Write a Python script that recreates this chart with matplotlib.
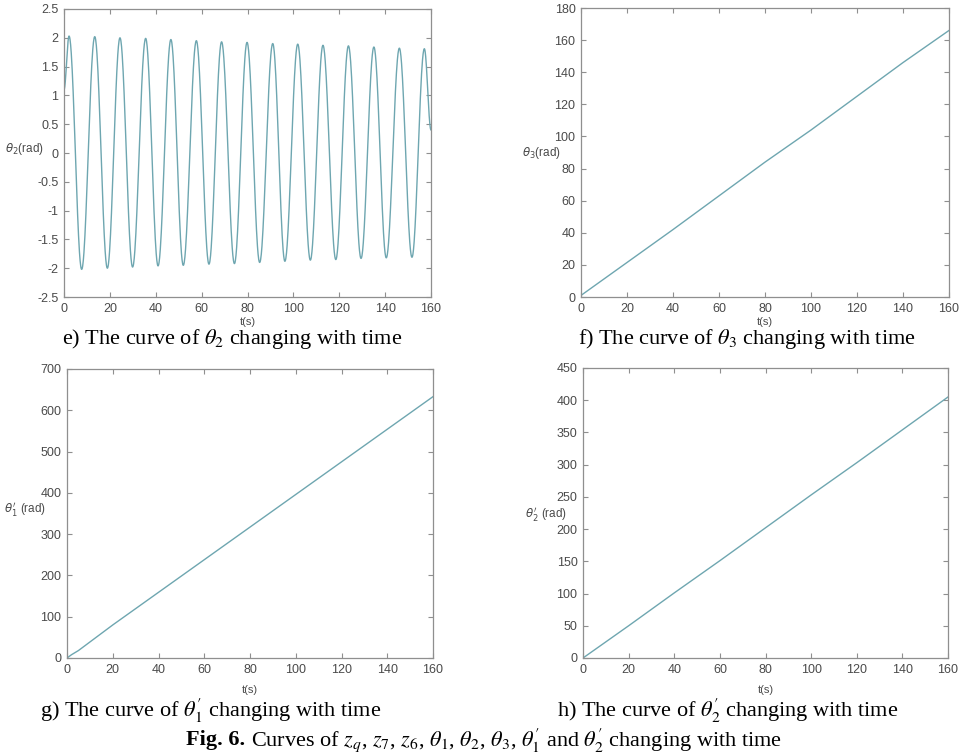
import numpy as np
import matplotlib
matplotlib.use("Agg")
import matplotlib.pyplot as plt

plt.rcParams['font.family'] = ['Liberation Sans', 'DejaVu Sans']

# e) theta2: extrema (t in s, value in rad)
th2_t = [0, 2.2, 7.7, 13.4, 18.9, 24.4, 29.9, 35.6, 41.0, 46.6, 52.0, 57.7, 63.2,
         68.7, 74.3, 79.8, 85.3, 91.0, 96.3, 101.9, 107.4, 112.9, 118.5, 124.0,
         129.5, 135.1, 140.5, 146.2, 151.7, 157.1, 160]
th2_v = [1.1, 2.03, -2.02, 2.02, -2.00, 2.00, -1.98, 1.99, -1.96, 1.97, -1.95, 1.95,
         -1.93, 1.93, -1.92, 1.92, -1.90, 1.90, -1.88, 1.89, -1.86, 1.87, -1.85,
         1.86, -1.83, 1.84, -1.82, 1.82, -1.81, 1.81, 0.4]

# f) theta3
th3_t = [0, 20, 40, 60, 80, 100, 120, 140, 160]
th3_v = [1, 21.5, 42, 63, 84, 104, 125, 146, 166]

# g) theta1'
th1p_t = [0, 2, 5, 20, 40, 60, 80, 100, 120, 140, 160]
th1p_v = [0, 8, 18, 80, 159, 238, 317, 396, 475, 554, 633]

# h) theta2'
th2p_t = [0, 20, 40, 60, 80, 100, 120, 140, 160]
th2p_v = [0, 50, 101, 151, 202, 253, 303, 354, 405]

line_color = '#6ea6b0'
spine_color = '#8f8f8f'
text_color = '#4a4a4a'


def smooth_extrema(ts, vs, n=40):
    # half-cosine between consecutive extrema
    xs, ys = [], []
    for i in range(len(ts) - 1):
        s = np.linspace(0, 1, n, endpoint=False)
        xs.append(ts[i] + (ts[i + 1] - ts[i]) * s)
        ys.append(vs[i] + (vs[i + 1] - vs[i]) * (1 - np.cos(np.pi * s)) / 2)
    xs.append([ts[-1]])
    ys.append([vs[-1]])
    return np.concatenate(xs), np.concatenate(ys)


def style_axes(ax, ylim, yticks, ylabel, ylab_xy, xlab_pad):
    ax.set_xlim(0, 160)
    ax.set_ylim(*ylim)
    ax.set_xticks(range(0, 161, 20))
    ax.set_yticks(yticks)
    ax.tick_params(direction='in', top=True, right=True, length=3.5, width=0.8,
                   colors=spine_color, labelcolor=text_color, labelsize=9, pad=4)
    for sp in ax.spines.values():
        sp.set_color(spine_color)
        sp.set_linewidth(0.9)
    ax.set_xlabel('t(s)', fontsize=8, color=text_color, labelpad=xlab_pad)
    fig.text(ylab_xy[0] / 964, 1 - ylab_xy[1] / 755, ylabel, fontsize=8.5,
             color=text_color, ha='center', va='center',
             math_fontfamily='dejavusans')


fig = plt.figure(figsize=(9.64, 7.55), dpi=100)

ax1 = fig.add_axes([0.0664, 0.6066, 0.3807, 0.3815])
x, y = smooth_extrema(th2_t, th2_v)
ax1.plot(x, y, color=line_color, lw=1.0)
style_axes(ax1, (-2.5, 2.5), np.arange(-2.5, 2.51, 0.5), r'$\theta_2$(rad)', (24, 149), 2)
ax1.set_yticklabels(['-2.5', '-2', '-1.5', '-1', '-0.5', '0', '0.5', '1', '1.5', '2', '2.5'])

ax2 = fig.add_axes([0.6027, 0.6066, 0.3817, 0.3828])
ax2.plot(th3_t, th3_v, color=line_color, lw=1.0)
style_axes(ax2, (0, 180), range(0, 181, 20), r'$\theta_3$(rad)', (541, 153), 2)

ax3 = fig.add_axes([0.0695, 0.1285, 0.3797, 0.3828])
ax3.plot(th1p_t, th1p_v, color=line_color, lw=1.0)
style_axes(ax3, (0, 700), range(0, 701, 100), r"$\theta_1'$ (rad)", (25, 509), 7)

ax4 = fig.add_axes([0.6048, 0.1285, 0.3786, 0.3841])
ax4.plot(th2p_t, th2p_v, color=line_color, lw=1.0)
style_axes(ax4, (0, 450), range(0, 451, 50), r"$\theta_2'$ (rad)", (546, 514), 7)

cap = dict(fontsize=16, family='Liberation Serif', math_fontfamily='stix',
           color='black', va='center')
fig.text(62 / 964, 1 - 339 / 755, r'e) The curve of $\theta_2$ changing with time', ha='left', **cap)
fig.text(578 / 964, 1 - 339 / 755, r'f) The curve of $\theta_3$ changing with time', ha='left', **cap)
fig.text(40 / 964, 1 - 711 / 755, r"g) The curve of $\theta_1'$ changing with time", ha='left', **cap)
fig.text(557 / 964, 1 - 711 / 755, r"h) The curve of $\theta_2'$ changing with time", ha='left', **cap)

# bold "Fig. 6." then the rest, centred as one line
t1 = fig.text(0, 1 - 740 / 755, 'Fig. 6.', weight='bold', ha='left', **cap)
t2 = fig.text(0, 1 - 740 / 755,
              r"Curves of $z_q$, $z_7$, $z_6$, $\theta_1$, $\theta_2$, $\theta_3$, "
              r"$\theta_1'$ and $\theta_2'$ changing with time", ha='left', **cap)
fig.canvas.draw()
w1 = t1.get_window_extent().width
w2 = t2.get_window_extent().width
x0 = 484 - (w1 + 5 + w2) / 2
t1.set_x(x0 / 964)
t2.set_x((x0 + w1 + 5) / 964)

fig.savefig('out.png', dpi=100)
